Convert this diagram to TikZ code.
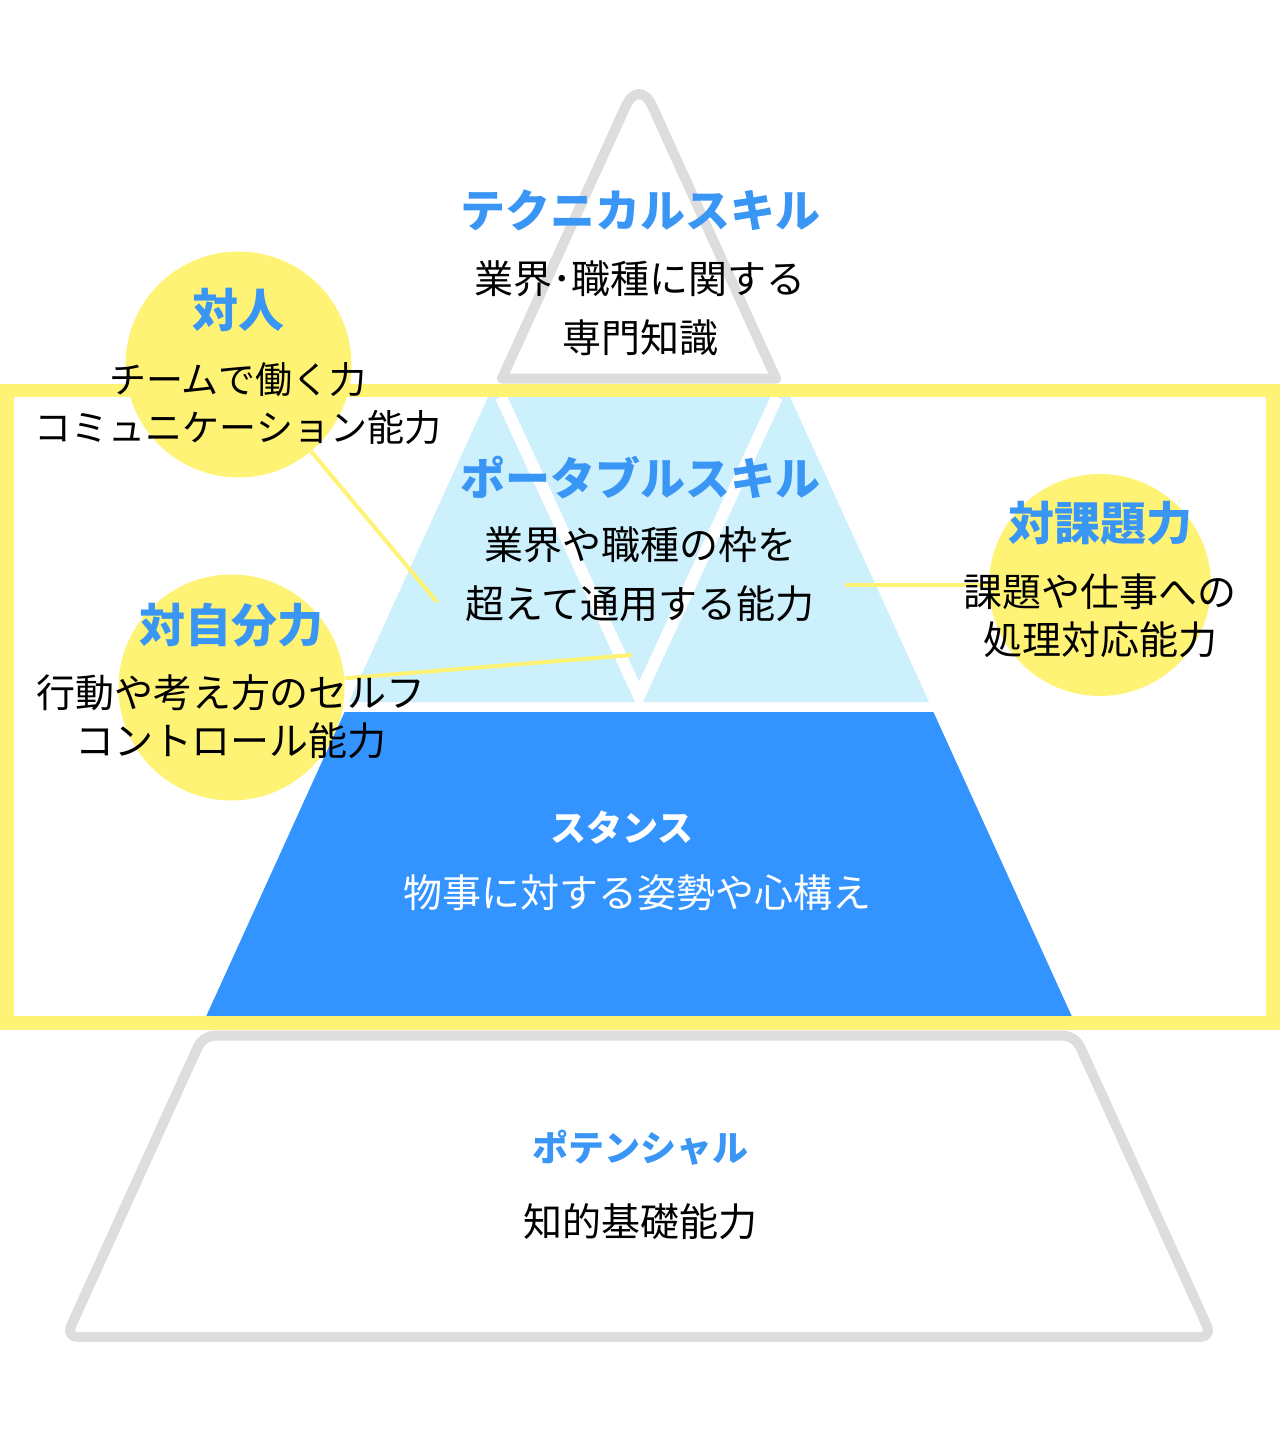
\documentclass[tikz,border=0pt]{standalone}
\usepackage{fontspec}
\setmainfont{Noto Sans CJK JP}
\definecolor{TitleColor}{RGB}{58,150,245}
\definecolor{StanceColor}{RGB}{51,148,255}
\definecolor{PortableColor}{RGB}{204,240,252}
\definecolor{MarkerColor}{RGB}{255,243,118}
\definecolor{OutlineColor}{RGB}{221,221,221}
\usetikzlibrary{positioning, calc}
\tikzstyle{title} = [text=TitleColor, font=\fontsize{22.5}{26}\selectfont\bfseries, inner sep=0pt]
\tikzstyle{body} = [align=center, font=\fontsize{19.5}{24}\selectfont, inner sep=0pt]
\tikzset{
  bubble/.style={circle, fill=MarkerColor, minimum size=113pt, inner sep=0pt},
  link/.style={MarkerColor, line width=2pt},
  outline/.style={OutlineColor, line width=5pt, line join=round},
  frame/.style={MarkerColor, line width=6.75pt},
  wide body/.style={body, font=\fontsize{19.5}{29.5}\selectfont}
}

\begin{document}
\begin{tikzpicture}[x=0.5pt, y=-0.5pt]
  \useasboundingbox (0,0) rectangle (1280,1440);

  % Yellow bubbles
  \node[bubble] (taijin) at (238.5,364.5) {};
  \node[bubble] (taijibun) at (231.5,687.5) {};
  \node[bubble, minimum size=111pt] (taikadai) at (1100,585) {};

  % Grey outline: technical skill and potential
  \draw[outline] (502,378.5) [rounded corners=16pt] -- (639,77) [sharp corners] -- (776,378.5) -- cycle;
  \draw[outline, rounded corners=6pt] (203,1035.5) -- (66,1337) -- (1212,1337) -- (1075,1035.5) -- cycle;

  % Portable skill
  \fill[PortableColor] (488,397) -- (790,397) -- (929,702) -- (349,702) -- cycle;
  \draw[white, line width=6pt] (501,397) -- (639,696) -- (777,397);

  % Stance
  \fill[StanceColor] (344.6,712) -- (933.4,712) -- (1071.7,1016) -- (206.3,1016) -- cycle;

  % Frame
  \draw[frame] (7,390.5) rectangle (1273,1023);

  % Links from the bubbles
  \coordinate (tojin) at (437,602);
  \coordinate (tojibun) at (632,655);
  \coordinate (tokadai) at (845,585);
  \draw[link] (taijin) -- (tojin);
  \draw[link] (taijibun) -- (tojibun);
  \draw[link] (taikadai) -- (tokadai);

  % Texts
  \node[title] (technical) at (640,210) {テクニカルスキル};
  \node[wide body] (technicaltext) at (640,308) {業界･職種に関する\\専門知識};

  \node[title] (portable) at (640,478) {ポータブルスキル};
  \node[wide body] (portabletext) at (640,574) {業界や職種の枠を\\超えて通用する能力};

  \node[title, text=white, font=\fontsize{18}{22}\selectfont\bfseries] (stance) at (622,828) {スタンス};
  \node[body, text=white] (stancetext) at (637,893) {物事に対する姿勢や心構え};

  \node[title, font=\fontsize{18}{22}\selectfont\bfseries] (potential) at (640,1148) {ポテンシャル};
  \node[body] (potentialtext) at (640,1222) {知的基礎能力};

  \node[title, font=\fontsize{23}{27}\selectfont\bfseries] (jin) at (238,310) {対人};
  \node[body, font=\fontsize{18.5}{24}\selectfont] (jintext) at (238,404) {チームで働く力\\コミュニケーション能力};

  \node[title, font=\fontsize{23}{27}\selectfont\bfseries] (jibun) at (231,625) {対自分力};
  \node[body] (jibuntext) at (231,716.5) {行動や考え方のセルフ\\コントロール能力};

  \node[title, font=\fontsize{23}{27}\selectfont\bfseries] (kadai) at (1100,523) {対課題力};
  \node[body] (kadaitext) at (1100,616) {課題や仕事への\\処理対応能力};
\end{tikzpicture}
\end{document}
